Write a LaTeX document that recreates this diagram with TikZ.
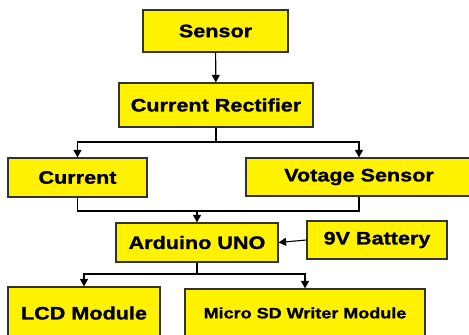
\documentclass[tikz,border=0pt]{standalone}
\usepackage{fontspec}
\usetikzlibrary{arrows.meta}
\newfontfamily\boxfont{Liberation Sans}[FakeStretch=1.2, BoldFeatures={FakeBold=1.3}]
\definecolor{boxyellow}{RGB}{255,242,0}
\definecolor{boxline}{RGB}{50,50,50}
\tikzset{
  blk/.style={draw=boxline, line width=1.2pt, fill=boxyellow, inner sep=0pt,
    font=\boxfont\bfseries\fontsize{18}{18}\selectfont, text=black},
  conn/.style={draw=black, line width=1.1pt},
  arr/.style={conn, -{Triangle[length=7.5pt,width=8pt]}}
}
\begin{document}
\begin{tikzpicture}[x=1pt,y=-1pt]
\useasboundingbox (0,0) rectangle (469,335);
\clip (0,0) rectangle (469,335);
\node[blk, minimum width=145pt, minimum height=42pt] (sen) at (215.5,31) {Sensor};
\node[blk, minimum width=194pt, minimum height=44pt] (rec) at (216,105) {Current Rectifier};
\node[blk, minimum width=139pt, minimum height=39pt] (cur) at (77.5,177.5) {Current};
\node[blk, minimum width=226pt, minimum height=38pt] (vol) at (359,177) {Votage Sensor};
\node[blk, minimum width=162pt, minimum height=39pt] (ard) at (197,242.5) {Arduino UNO};
\node[blk, minimum width=140pt, minimum height=38pt] (bat) at (377,240) {9V Battery};
\node[blk, minimum width=152pt, minimum height=52pt] (lcd) at (84,313) {LCD Module};
\node[blk, minimum width=240pt, minimum height=48pt, font=\boxfont\bfseries\fontsize{15}{15}\selectfont] (sd) at (305,313) {Micro SD Writer Module};
\coordinate (j1) at (216,142);
\coordinate (j2) at (197,211);
\coordinate (j3) at (197,274);
\draw[arr] (sen) -- (rec);
\draw[conn] (rec) -- (j1);
\draw[arr] (j1) -| (cur.north);
\draw[arr] (j1) -| (vol.north);
\draw[conn] (cur.south) |- (j2);
\draw[conn] (vol.south) |- (j2);
\draw[arr] (j2) -- (ard.north);
\draw[arr] (bat.west) -- (ard.east);
\draw[conn] (ard.south) -- (j3);
\draw[arr] (j3) -| (lcd.north);
\draw[arr] (j3) -| (sd.north);
\end{tikzpicture}
\end{document}
